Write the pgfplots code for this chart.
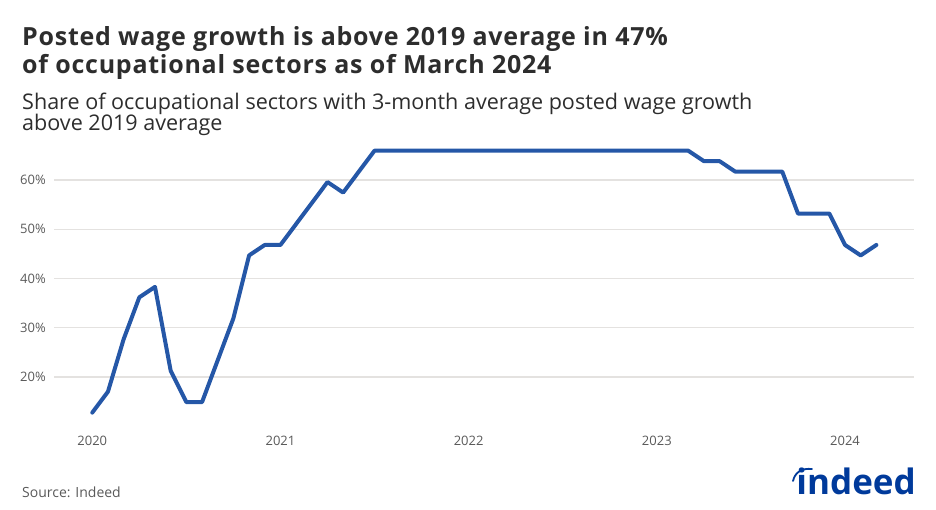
\documentclass[border=0pt]{standalone}
\usepackage{pgfplots}
\pgfplotsset{compat=1.18}
\usepackage{fontspec}
\setmainfont{Open Sans}
\newfontfamily\titlefont{Open Sans}[LetterSpace=3.0]
\definecolor{indblue}{HTML}{2557A7}
\definecolor{titlegray}{HTML}{2D2D2D}
\definecolor{tickgray}{HTML}{595959}
\definecolor{gridgray}{HTML}{E4E2E0}
\definecolor{logoblue}{HTML}{003A9B}
\pgfplotstableread{
m v
0 12.766
1 17.021
2 27.660
3 36.170
4 38.298
5 21.277
6 14.894
7 14.894
8 23.404
9 31.915
10 44.681
11 46.809
12 46.809
13 51.064
14 55.319
15 59.574
16 57.447
17 61.702
18 65.957
19 65.957
20 65.957
21 65.957
22 65.957
23 65.957
24 65.957
25 65.957
26 65.957
27 65.957
28 65.957
29 65.957
30 65.957
31 65.957
32 65.957
33 65.957
34 65.957
35 65.957
36 65.957
37 65.957
38 65.957
39 63.830
40 63.830
41 61.702
42 61.702
43 61.702
44 61.702
45 53.191
46 53.191
47 53.191
48 46.809
49 44.681
50 46.809
}\wagedata
\begin{document}
\begin{tikzpicture}[x=1pt,y=1pt]
\path[use as bounding box] (0pt,0pt) rectangle (936pt,-510pt);
\node[anchor=base west, inner sep=0, font=\titlefont\fontsize{25}{28}\selectfont\bfseries, text=titlegray] at (22pt,-46pt) {Posted wage growth is above 2019 average in 47\%};
\node[anchor=base west, inner sep=0, font=\titlefont\fontsize{25}{28}\selectfont\bfseries, text=titlegray] at (22pt,-73.5pt) {of occupational sectors as of March 2024};
\node[anchor=base west, inner sep=0, font=\fontsize{21.55}{24}\selectfont, text=titlegray] at (22pt,-110pt) {Share of occupational sectors with 3-month average posted wage growth};
\node[anchor=base west, inner sep=0, font=\fontsize{21.55}{24}\selectfont, text=titlegray] at (22pt,-131pt) {above 2019 average};
\node[anchor=base west, inner sep=0, font=\fontsize{14}{16}\selectfont, text=tickgray] at (22pt,-497pt) {Source: Indeed};
\node[anchor=base east, inner sep=0, font=\fontsize{35}{35}\selectfont\bfseries, text=logoblue] at (916pt,-494pt) {indeed};
\draw[logoblue, line width=1.8pt, line cap=round] (793pt,-481pt) .. controls (795pt,-472pt) and (802pt,-468pt) .. (812pt,-469pt);
\begin{axis}[
  at={(54pt,-426.25pt)}, anchor=south west,
  scale only axis, width=860.3pt, height=280.75pt,
  xmin=-2.44, xmax=52.42, ymin=10, ymax=67,
  axis line style={draw=none},
  major tick length=0pt,
  xtick={0,12,24,36,48},
  xticklabels={2020,2021,2022,2023,2024},
  ytick={20,30,40,50,60},
  yticklabels={20\%,30\%,40\%,50\%,60\%},
  ymajorgrids,
  grid style={gridgray, line width=1.2pt},
  ticklabel style={font=\fontsize{13}{15}\selectfont, text=tickgray, inner sep=0pt},
  yticklabel style={anchor=east},
  xticklabel style={anchor=north},
  yticklabel shift=8pt,
  xticklabel shift=10pt,
  /pgf/number format/assume math mode=true,
]
\addplot[indblue, line width=4pt, line join=round, line cap=round] table[x=m, y=v] {\wagedata};
\end{axis}
\end{tikzpicture}
\end{document}
